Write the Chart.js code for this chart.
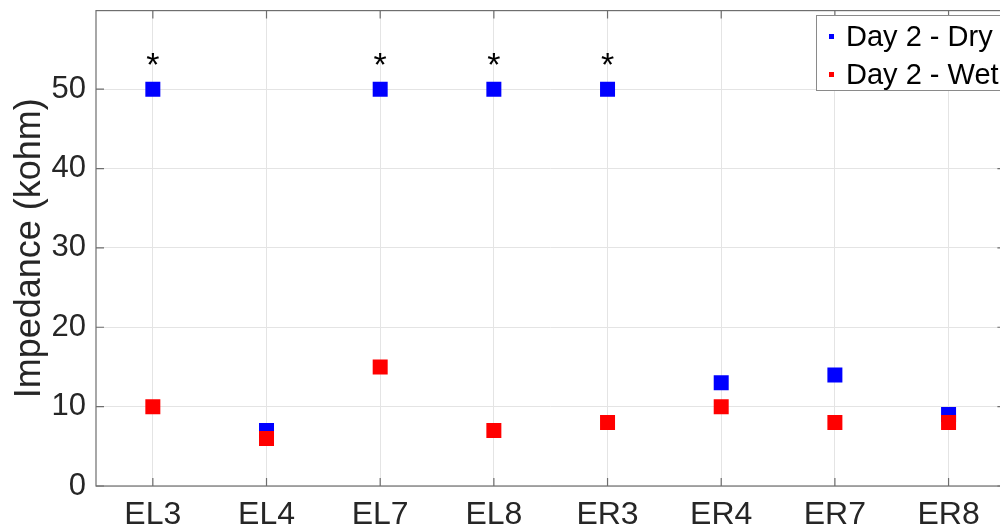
<!DOCTYPE html>
<html>
<head>
<meta charset="utf-8">
<script src="https://cdn.jsdelivr.net/npm/chart.js@4/dist/chart.umd.min.js"></script>
<style>
  html, body { margin: 0; padding: 0; background: #fff; overflow: hidden; }
  #wrap { position: relative; width: 1000px; height: 532px; overflow: hidden; }
  #chart { position: absolute; left: 0; top: 0; }
  #legend {
    position: absolute; left: 816px; top: 15px; width: 192px; height: 74px;
    border: 1px solid #8a8a8a; background: #fff;
    font-family: 'Liberation Sans', Arial, sans-serif; font-size: 29px; color: #000;
  }
  .row { position: absolute; left: 0; height: 36px; line-height: 36px; white-space: nowrap; }
  .row span.mk { position: absolute; left: 12px; top: 16px; width: 5px; height: 5px; }
  .row span.tx { position: absolute; left: 29px; top: 0; }
</style>
</head>
<body>
<div id="wrap">
  <canvas id="chart" width="1016" height="532"></canvas>
  <div id="legend"></div>
</div>
<script>
const categories = ['EL3', 'EL4', 'EL7', 'EL8', 'ER3', 'ER4', 'ER7', 'ER8'];
const dryValues = [50, 7, 50, 50, 50, 13, 14, 9];
const wetValues = [10, 6, 15, 7, 8, 10, 8, 8];
const drySignificant = [true, false, true, true, true, false, false, false];
const seriesLabels = ['Day 2 - Dry', 'Day 2 - Wet'];
const seriesColors = ['#0000ff', '#ff0000'];
const yTicks = [0, 10, 20, 30, 40, 50];

const textColor = '#262626';
const fontFamily = "'Liberation Sans', Arial, sans-serif";

// box round the plot with inward ticks, like MATLAB axes
const boxPlugin = {
  id: 'box',
  afterDatasetsDraw(chart) {
    const { ctx, chartArea: a, scales } = chart;
    ctx.save();
    ctx.strokeStyle = '#6e6e6e';
    ctx.lineWidth = 1.2;
    ctx.strokeRect(a.left, a.top, a.right - a.left, a.bottom - a.top);
    ctx.beginPath();
    scales.x.ticks.forEach((t, i) => {
      const x = scales.x.getPixelForTick(i);
      ctx.moveTo(x, a.bottom); ctx.lineTo(x, a.bottom - 8);
      ctx.moveTo(x, a.top); ctx.lineTo(x, a.top + 8);
    });
    scales.y.ticks.forEach((t, i) => {
      const y = scales.y.getPixelForTick(i);
      ctx.moveTo(a.left, y); ctx.lineTo(a.left + 8, y);
      ctx.moveTo(a.right, y); ctx.lineTo(a.right - 8, y);
    });
    ctx.stroke();
    ctx.restore();
  }
};

// asterisks above the dry values that are marked
const starPlugin = {
  id: 'stars',
  afterDatasetsDraw(chart) {
    const { ctx, scales } = chart;
    ctx.save();
    ctx.fillStyle = '#000';
    ctx.font = '34px ' + fontFamily;
    ctx.textAlign = 'center';
    ctx.textBaseline = 'alphabetic';
    drySignificant.forEach((sig, i) => {
      if (!sig) return;
      const x = scales.x.getPixelForValue(i);
      const y = scales.y.getPixelForValue(dryValues[i]);
      ctx.fillText('*', x, y - 13);
    });
    ctx.restore();
  }
};

function noPad(scale) {
  scale.paddingTop = 0;
  scale.paddingBottom = 0;
  scale.paddingLeft = 0;
  scale.paddingRight = 0;
}

const chart = new Chart(document.getElementById('chart'), {
  type: 'line',
  data: {
    labels: categories,
    datasets: [
      { label: seriesLabels[0], data: dryValues, order: 1 },
      { label: seriesLabels[1], data: wetValues, order: 0 }
    ].map((d, i) => Object.assign(d, {
      showLine: false,
      pointStyle: 'rect',
      pointRadius: 10.6,
      pointHoverRadius: 10.6,
      pointBackgroundColor: seriesColors[i],
      pointBorderColor: seriesColors[i],
      pointBorderWidth: 0,
      borderColor: seriesColors[i],
      backgroundColor: seriesColors[i]
    }))
  },
  options: {
    responsive: false,
    animation: false,
    events: [],
    layout: { padding: { top: 8, right: 6, left: 0, bottom: 0 } },
    plugins: {
      legend: { display: false },
      tooltip: { enabled: false }
    },
    scales: {
      x: {
        type: 'category',
        offset: true,
        grid: { color: '#e4e4e4', drawTicks: false, offset: false },
        border: { display: false },
        ticks: {
          color: textColor,
          padding: 10,
          font: { family: fontFamily, size: 32 },
          maxRotation: 0
        },
        afterFit(scale) { scale.height = 46; noPad(scale); }
      },
      y: {
        min: 0,
        max: 59.9,
        afterBuildTicks(scale) { scale.ticks = yTicks.map(v => ({ value: v })); },
        grid: { color: '#e4e4e4', drawTicks: false },
        border: { display: false },
        ticks: {
          color: textColor,
          padding: 10,
          font: { family: fontFamily, size: 31 }
        },
        title: {
          display: true,
          text: 'Impedance (kohm)',
          color: textColor,
          font: { family: fontFamily, size: 36 },
          padding: { top: 8, bottom: 0 }
        },
        afterFit(scale) { scale.width = 96; noPad(scale); }
      }
    }
  },
  plugins: [boxPlugin, starPlugin]
});

// legend inside the plot, in dataset order
const legend = document.getElementById('legend');
seriesLabels.forEach((label, i) => {
  const row = document.createElement('div');
  row.className = 'row';
  row.style.top = (2 + i * 38) + 'px';
  row.innerHTML = '<span class="mk" style="background:' + seriesColors[i] + '"></span><span class="tx">' + label + '</span>';
  legend.appendChild(row);
});
</script>
</body>
</html>
